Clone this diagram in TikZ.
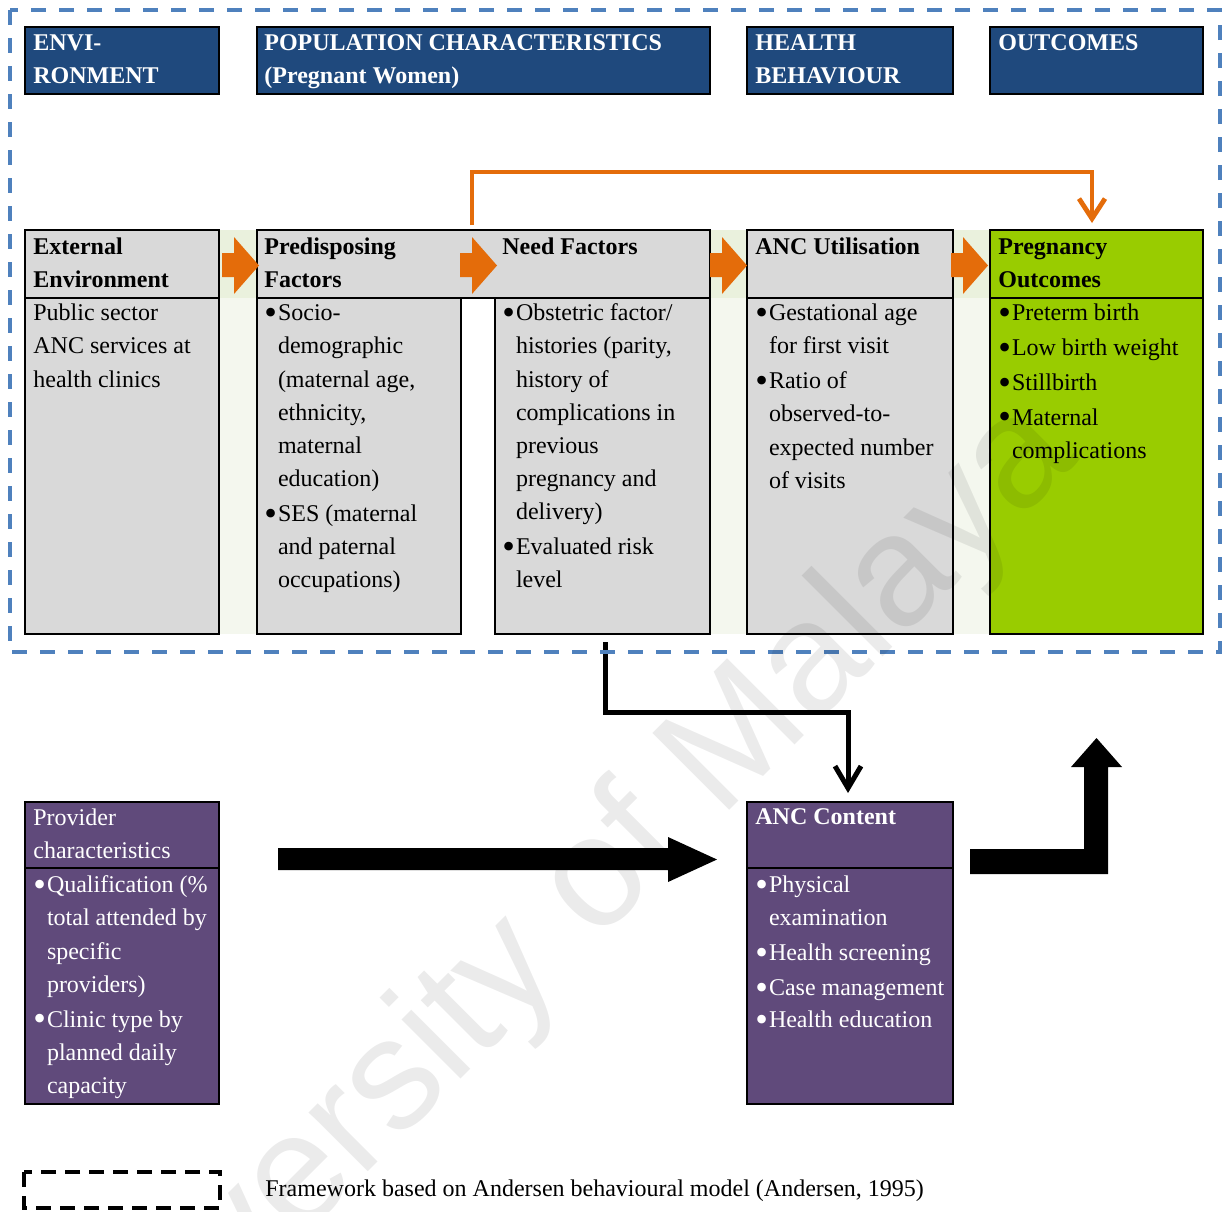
\documentclass[tikz,border=0pt]{standalone}
\usepackage{fontspec}
\setmainfont{Liberation Serif}
\newfontfamily\wmfont{Liberation Sans}
\usetikzlibrary{arrows.meta,fit}
\definecolor{hdrblue}{HTML}{1F497D}
\definecolor{cellgray}{HTML}{D9D9D9}
\definecolor{outgreen}{HTML}{99CC00}
\definecolor{provpurple}{HTML}{604A7B}
\definecolor{arrorange}{HTML}{E46C0A}
\definecolor{dashblue}{HTML}{4F81BD}
\definecolor{gaphead}{HTML}{EAF1DD}
\definecolor{gapbody}{HTML}{F4F7EE}
\newcommand\bu{\makebox[6.8pt][l]{\raisebox{-1.9pt}{\scalebox{1.5}{\textbullet}}}}
\newcommand\ind{\hspace*{6.8pt}}
\newcommand\nb{\\[0.8pt]}
\begin{document}
\begin{tikzpicture}[x=0.5pt,y=-0.5pt,
  box/.style={draw=black, line width=1pt, inner sep=0pt},
  hdrbox/.style={box, fill=hdrblue, line width=1.2pt},
  graybox/.style={box, fill=cellgray},
  greenbox/.style={box, fill=outgreen},
  purplebox/.style={box, fill=provpurple},
  txt/.style={anchor=north west, inner sep=0pt, align=left, font=\fontsize{12}{16.6}\selectfont},
  btxt/.style={txt, font=\fontsize{12}{16.6}\selectfont\bfseries},
  wtxt/.style={txt, text=white},
  wbtxt/.style={btxt, text=white},
  orangeline/.style={draw=arrorange, line width=2.4pt, -{Straight Barb[length=10pt,width=13pt]}},
  blackline/.style={draw=black, line width=2.5pt, -{Straight Barb[length=11pt,width=13pt]}},
  blockarrow/.style={fill=arrorange},
  bigarrow/.style={fill=black}
]
\useasboundingbox (0,0) rectangle (1225,1211);
\fill[white] (0,0) rectangle (1225,1211);

% gap column fills
\foreach \gx/\gy in {219/257, 710/747, 953/990}{
  \fill[gaphead] (\gx,230) rectangle (\gy,298);
  \fill[gapbody] (\gx,298) rectangle (\gy,634);
}

% top header boxes
\node[hdrbox, fit={(25,27) (219,94)}] (envhdr) {};
\node[hdrbox, fit={(257,27) (710,94)}] (pophdr) {};
\node[hdrbox, fit={(747,27) (953,94)}] (behhdr) {};
\node[hdrbox, fit={(990,27) (1203,94)}] (outhdr) {};

% table boxes
\node[graybox, fit={(25,230) (219,298)}] (exthead) {};
\node[graybox, fit={(25,298) (219,634)}] (extbody) {};
\node[graybox, fit={(257,230) (710,298)}] (pnhead) {};
\node[graybox, fit={(257,298) (461,634)}] (predbody) {};
\node[graybox, fit={(495,298) (710,634)}] (needbody) {};
\node[graybox, fit={(747,230) (953,298)}] (anchead) {};
\node[graybox, fit={(747,298) (953,634)}] (ancbody) {};
\node[greenbox, fit={(990,230) (1203,298)}] (preghead) {};
\node[greenbox, fit={(990,298) (1203,634)}] (pregbody) {};

% lower boxes
\node[purplebox, fit={(25,802) (219,868)}] (provhead) {};
\node[purplebox, fit={(25,868) (219,1104)}] (provbody) {};
\node[purplebox, fit={(747,802) (953,868)}] (conthead) {};
\node[purplebox, fit={(747,868) (953,1104)}] (contbody) {};

% orange block arrows
\foreach \ax in {222,460,710,951}{
  \fill[blockarrow] (\ax,253) -- (\ax+12,253) -- (\ax+12,237) -- (\ax+37,265.5)
     -- (\ax+12,294) -- (\ax+12,277) -- (\ax,277) -- cycle;
}

% top header texts
\node[wbtxt] (envtxt) at (33,27) {\strut ENVI-\\RONMENT};
\node[wbtxt] (poptxt) at (264,27) {\strut POPULATION CHARACTERISTICS\\(Pregnant Women)};
\node[wbtxt] (behtxt) at (755,27) {\strut HEALTH\\BEHAVIOUR};
\node[wbtxt] (outtxt) at (998,27) {\strut OUTCOMES};

% table header texts
\node[btxt] (exthtxt) at (33,231) {\strut External\\Environment};
\node[btxt] (predhtxt) at (264,231) {\strut Predisposing\\Factors};
\node[btxt] (needhtxt) at (502,231) {\strut Need Factors};
\node[btxt] (anchtxt) at (755,231) {\strut ANC Utilisation};
\node[btxt] (preghtxt) at (998,231) {\strut Pregnancy\\Outcomes};

% table body texts
\node[txt] (extbtxt) at (33,297) {\strut Public sector\\ANC services at\\health clinics};
\node[txt] (predbtxt) at (264,297) {\strut\bu Socio-\\\ind demographic\\\ind (maternal age,\\\ind ethnicity,\\\ind maternal\\\ind education)\nb\bu SES (maternal\\\ind and paternal\\\ind occupations)};
\node[txt] (needbtxt) at (502,297) {\strut\bu Obstetric factor/\\\ind histories (parity,\\\ind history of\\\ind complications in\\\ind previous\\\ind pregnancy and\\\ind delivery)\nb\bu Evaluated risk\\\ind level};
\node[txt] (ancbtxt) at (755,297) {\strut\bu Gestational age\\\ind for first visit\nb\bu Ratio of\\\ind observed-to-\\\ind expected number\\\ind of visits};
\node[txt] (pregbtxt) at (998,297) {\strut\bu Preterm birth\nb\bu Low birth weight\nb\bu Stillbirth\nb\bu Maternal\\\ind complications};

% lower texts
\node[wtxt] (provhtxt) at (33,802) {\strut Provider\\characteristics};
\node[wtxt] (provbtxt) at (33,869) {\strut\bu Qualification (\%\\\ind total attended by\\\ind specific\\\ind providers)\nb\bu Clinic type by\\\ind planned daily\\\ind capacity};
\node[wbtxt] (conthtxt) at (755,801) {\strut ANC Content};
\node[wtxt] (contbtxt) at (755,869) {\strut\bu Physical\\\ind examination\nb\bu Health screening\nb\bu Case management\\[-0.6pt]\bu Health education};

% big black arrows
\fill[bigarrow] (278,848) -- (668,848) -- (668,837) -- (717,859.5) -- (668,882) -- (668,870) -- (278,870) -- cycle;
\fill[bigarrow] (970,849) -- (1084,849) -- (1084,767) -- (1071,767) -- (1096.5,738) -- (1122,767) -- (1108,767) -- (1108,874) -- (970,874) -- cycle;

% connectors
\coordinate (ostart) at (472,225);
\coordinate (otop) at (472,172);
\coordinate (oend) at (1092,223);
\draw[orangeline] (ostart) -- (otop) -| (oend);

\coordinate (bstart) at (605,642);
\coordinate (bmid) at (605,712);
\coordinate (bend) at (848,793);
\draw[blackline] (bstart) -- (bmid) -| (bend);

% blue dashed frame
\draw[dashblue, line width=1.75pt, dash pattern=on 7.5pt off 6.5pt] (10,10) rectangle (1220,652);

% legend
\draw[black, line width=2pt, dash pattern=on 7.5pt off 4.5pt] (24,1172) rectangle (220,1208);
\node[anchor=base west, inner sep=0pt, font=\fontsize{12}{16.6}\selectfont] (legendtxt) at (265,1196) {Framework based on Andersen behavioural model (Andersen, 1995)};

% watermark
\node[rotate=45, anchor=base, inner sep=0pt, font=\wmfont\fontsize{79}{79}\selectfont, text=black, text opacity=0.08] (wm) at (578,962) {University of Malaya};
\end{tikzpicture}
\end{document}
